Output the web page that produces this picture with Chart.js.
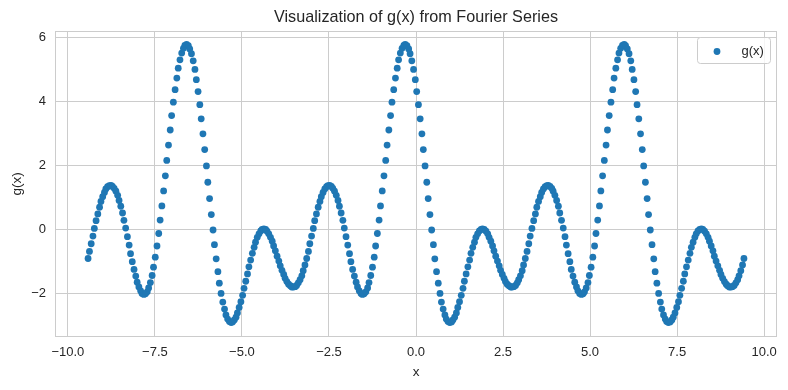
<!DOCTYPE html>
<html>
<head>
    <title>Visualization of g(x) from Fourier Series</title>
    <script src="https://cdn.jsdelivr.net/npm/chart.js@4"></script>
    <style>
      body { margin: 0; background: #ffffff; }
      canvas { display: block; }
    </style>
</head>
<body>
  <canvas id="myChart" width="788" height="390"></canvas>

  <script type="text/javascript">
    // sample points on the x axis (-3pi .. 3pi)
    const xValues = [
      -9.42,-9.38,-9.33,-9.28,-9.24,-9.19,-9.14,-9.09,-9.05,-9.00,
      -8.95,-8.91,-8.86,-8.81,-8.76,-8.72,-8.67,-8.62,-8.57,-8.53,
      -8.48,-8.43,-8.39,-8.34,-8.29,-8.24,-8.20,-8.15,-8.10,-8.05,
      -8.01,-7.96,-7.91,-7.87,-7.82,-7.77,-7.72,-7.68,-7.63,-7.58,
      -7.54,-7.49,-7.44,-7.39,-7.35,-7.30,-7.25,-7.20,-7.16,-7.11,
      -7.06,-7.02,-6.97,-6.92,-6.87,-6.83,-6.78,-6.73,-6.68,-6.64,
      -6.59,-6.54,-6.50,-6.45,-6.40,-6.35,-6.31,-6.26,-6.21,-6.17,
      -6.12,-6.07,-6.02,-5.98,-5.93,-5.88,-5.83,-5.79,-5.74,-5.69,
      -5.65,-5.60,-5.55,-5.50,-5.46,-5.41,-5.36,-5.31,-5.27,-5.22,
      -5.17,-5.13,-5.08,-5.03,-4.98,-4.94,-4.89,-4.84,-4.80,-4.75,
      -4.70,-4.65,-4.61,-4.56,-4.51,-4.46,-4.42,-4.37,-4.32,-4.28,
      -4.23,-4.18,-4.13,-4.09,-4.04,-3.99,-3.94,-3.90,-3.85,-3.80,
      -3.76,-3.71,-3.66,-3.61,-3.57,-3.52,-3.47,-3.43,-3.38,-3.33,
      -3.28,-3.24,-3.19,-3.14,-3.09,-3.05,-3.00,-2.95,-2.91,-2.86,
      -2.81,-2.76,-2.72,-2.67,-2.62,-2.57,-2.53,-2.48,-2.43,-2.39,
      -2.34,-2.29,-2.24,-2.20,-2.15,-2.10,-2.06,-2.01,-1.96,-1.91,
      -1.87,-1.82,-1.77,-1.72,-1.68,-1.63,-1.58,-1.54,-1.49,-1.44,
      -1.39,-1.35,-1.30,-1.25,-1.20,-1.16,-1.11,-1.06,-1.02,-0.97,
      -0.92,-0.87,-0.83,-0.78,-0.73,-0.69,-0.64,-0.59,-0.54,-0.50,
      -0.45,-0.40,-0.35,-0.31,-0.26,-0.21,-0.17,-0.12,-0.07,-0.02,
      0.02,0.07,0.12,0.17,0.21,0.26,0.31,0.35,0.40,0.45,
      0.50,0.54,0.59,0.64,0.69,0.73,0.78,0.83,0.87,0.92,
      0.97,1.02,1.06,1.11,1.16,1.20,1.25,1.30,1.35,1.39,
      1.44,1.49,1.54,1.58,1.63,1.68,1.72,1.77,1.82,1.87,
      1.91,1.96,2.01,2.06,2.10,2.15,2.20,2.24,2.29,2.34,
      2.39,2.43,2.48,2.53,2.57,2.62,2.67,2.72,2.76,2.81,
      2.86,2.91,2.95,3.00,3.05,3.09,3.14,3.19,3.24,3.28,
      3.33,3.38,3.43,3.47,3.52,3.57,3.61,3.66,3.71,3.76,
      3.80,3.85,3.90,3.94,3.99,4.04,4.09,4.13,4.18,4.23,
      4.28,4.32,4.37,4.42,4.46,4.51,4.56,4.61,4.65,4.70,
      4.75,4.80,4.84,4.89,4.94,4.98,5.03,5.08,5.13,5.17,
      5.22,5.27,5.31,5.36,5.41,5.46,5.50,5.55,5.60,5.65,
      5.69,5.74,5.79,5.83,5.88,5.93,5.98,6.02,6.07,6.12,
      6.17,6.21,6.26,6.31,6.35,6.40,6.45,6.50,6.54,6.59,
      6.64,6.68,6.73,6.78,6.83,6.87,6.92,6.97,7.02,7.06,
      7.11,7.16,7.20,7.25,7.30,7.35,7.39,7.44,7.49,7.54,
      7.58,7.63,7.68,7.72,7.77,7.82,7.87,7.91,7.96,8.01,
      8.05,8.10,8.15,8.20,8.24,8.29,8.34,8.39,8.43,8.48,
      8.53,8.57,8.62,8.67,8.72,8.76,8.81,8.86,8.91,8.95,
      9.00,9.05,9.09,9.14,9.19,9.24,9.28,9.33,9.38,9.42
    ];

    // g(x), one value per dot
    const gValues = [
      -0.90,-0.68,-0.44,-0.20,0.04,0.28,0.49,0.70,0.88,1.03,
      1.16,1.27,1.34,1.37,1.38,1.35,1.29,1.20,1.07,0.91,
      0.73,0.52,0.29,0.05,-0.22,-0.48,-0.75,-1.00,-1.24,-1.45,
      -1.64,-1.79,-1.91,-1.99,-2.02,-2.00,-1.94,-1.82,-1.65,-1.43,
      -1.17,-0.86,-0.51,-0.12,0.30,0.74,1.21,1.68,2.16,2.64,
      3.11,3.56,3.98,4.37,4.73,5.04,5.30,5.51,5.66,5.75,
      5.78,5.74,5.64,5.49,5.27,5.00,4.68,4.31,3.90,3.46,
      2.99,2.50,1.99,1.48,0.97,0.47,-0.01,-0.47,-0.91,-1.31,
      -1.67,-1.99,-2.26,-2.48,-2.66,-2.79,-2.87,-2.90,-2.88,-2.82,
      -2.73,-2.60,-2.43,-2.25,-2.05,-1.83,-1.61,-1.38,-1.16,-0.95,
      -0.74,-0.55,-0.39,-0.24,-0.13,-0.04,0.01,0.02,0.01,-0.05,
      -0.13,-0.24,-0.36,-0.51,-0.66,-0.83,-0.98,-1.13,-1.27,-1.40,
      -1.52,-1.62,-1.70,-1.75,-1.79,-1.79,-1.78,-1.74,-1.66,-1.56,
      -1.44,-1.28,-1.10,
      -0.90,-0.68,-0.44,-0.20,0.04,0.28,0.49,0.70,0.88,1.03,
      1.16,1.27,1.34,1.37,1.38,1.35,1.29,1.20,1.07,0.91,
      0.73,0.52,0.29,0.05,-0.22,-0.48,-0.75,-1.00,-1.24,-1.45,
      -1.64,-1.79,-1.91,-1.99,-2.02,-2.00,-1.94,-1.82,-1.65,-1.43,
      -1.17,-0.86,-0.51,-0.12,0.30,0.74,1.21,1.68,2.16,2.64,
      3.11,3.56,3.98,4.37,4.73,5.04,5.30,5.51,5.66,5.75,
      5.78,5.74,5.64,5.49,5.27,5.00,4.68,4.31,3.90,3.46,
      2.99,2.50,1.99,1.48,0.97,0.47,-0.01,-0.47,-0.91,-1.31,
      -1.67,-1.99,-2.26,-2.48,-2.66,-2.79,-2.87,-2.90,-2.88,-2.82,
      -2.73,-2.60,-2.43,-2.25,-2.05,-1.83,-1.61,-1.38,-1.16,-0.95,
      -0.74,-0.55,-0.39,-0.24,-0.13,-0.04,0.01,0.02,0.01,-0.05,
      -0.13,-0.24,-0.36,-0.51,-0.66,-0.83,-0.98,-1.13,-1.27,-1.40,
      -1.52,-1.62,-1.70,-1.75,-1.79,-1.79,-1.78,-1.74,-1.66,-1.56,
      -1.44,-1.28,-1.10,
      -0.90,-0.68,-0.44,-0.20,0.04,0.28,0.49,0.70,0.88,1.03,
      1.16,1.27,1.34,1.37,1.38,1.35,1.29,1.20,1.07,0.91,
      0.73,0.52,0.29,0.05,-0.22,-0.48,-0.75,-1.00,-1.24,-1.45,
      -1.64,-1.79,-1.91,-1.99,-2.02,-2.00,-1.94,-1.82,-1.65,-1.43,
      -1.17,-0.86,-0.51,-0.12,0.30,0.74,1.21,1.68,2.16,2.64,
      3.11,3.56,3.98,4.37,4.73,5.04,5.30,5.51,5.66,5.75,
      5.78,5.74,5.64,5.49,5.27,5.00,4.68,4.31,3.90,3.46,
      2.99,2.50,1.99,1.48,0.97,0.47,-0.01,-0.47,-0.91,-1.31,
      -1.67,-1.99,-2.26,-2.48,-2.66,-2.79,-2.87,-2.90,-2.88,-2.82,
      -2.73,-2.60,-2.43,-2.25,-2.05,-1.83,-1.61,-1.38,-1.16,-0.95,
      -0.74,-0.55,-0.39,-0.24,-0.13,-0.04,0.01,0.02,0.01,-0.05,
      -0.13,-0.24,-0.36,-0.51,-0.66,-0.83,-0.98,-1.13,-1.27,-1.40,
      -1.52,-1.62,-1.70,-1.75,-1.79,-1.79,-1.78,-1.74,-1.66,-1.56,
      -1.44,-1.28,-1.10,
      -0.90
    ];

    const seriesLabel = 'g(x)';
    const chartTitle = 'Visualization of g(x) from Fourier Series';
    const xTickStep = 2.5;
    const yTickStep = 2;

    const FONT = 'Arial, "Liberation Sans", sans-serif';
    const TEXT = '#262626';
    const GRID = '#cccccc';
    const BLUE = '#1f77b4';

    const points = xValues.map(function (x, i) {
      return { x: x, y: gValues[i] };
    });

    // matplotlib style minus sign
    function tickText(v, digits) {
      const s = Math.abs(v).toFixed(digits);
      return v < 0 ? '\u2212' + s : s;
    }

    // light grey box round the plot area
    const framePlugin = {
      id: 'frame',
      beforeDatasetsDraw(chart) {
        const a = chart.chartArea;
        const ctx = chart.ctx;
        ctx.save();
        ctx.strokeStyle = GRID;
        ctx.lineWidth = 1;
        ctx.strokeRect(a.left + 0.5, a.top + 0.5, a.right - a.left - 1, a.bottom - a.top - 1);
        ctx.restore();
      }
    };

    // legend box inside the plot, upper right
    const legendBox = {
      id: 'legendBox',
      afterDatasetsDraw(chart) {
        const a = chart.chartArea;
        const ctx = chart.ctx;
        const ds = chart.data.datasets[0];
        const w = 73, h = 26, r = 3;
        const x0 = Math.round(a.right - 7 - w) + 0.5;
        const y0 = Math.round(a.top + 6) + 0.5;
        ctx.save();
        ctx.beginPath();
        ctx.moveTo(x0 + r, y0);
        ctx.arcTo(x0 + w, y0, x0 + w, y0 + h, r);
        ctx.arcTo(x0 + w, y0 + h, x0, y0 + h, r);
        ctx.arcTo(x0, y0 + h, x0, y0, r);
        ctx.arcTo(x0, y0, x0 + w, y0, r);
        ctx.closePath();
        ctx.fillStyle = 'rgba(255,255,255,0.8)';
        ctx.fill();
        ctx.strokeStyle = GRID;
        ctx.lineWidth = 1;
        ctx.stroke();

        ctx.beginPath();
        ctx.arc(x0 + 19.5, y0 + 14, ds.pointRadius, 0, Math.PI * 2);
        ctx.fillStyle = ds.backgroundColor;
        ctx.fill();

        ctx.font = '13px ' + FONT;
        ctx.fillStyle = TEXT;
        ctx.textBaseline = 'middle';
        ctx.textAlign = 'left';
        ctx.fillText(ds.label, x0 + 44, y0 + 14);
        ctx.restore();
      }
    };

    const ctx = document.getElementById('myChart').getContext('2d');

    new Chart(ctx, {
      type: 'scatter',
      data: {
        datasets: [{
          label: seriesLabel,
          data: points,
          backgroundColor: BLUE,
          borderColor: BLUE,
          borderWidth: 0,
          pointRadius: 3.4,
          pointHoverRadius: 3.4
        }]
      },
      options: {
        responsive: false,
        animation: false,
        devicePixelRatio: 1,
        events: [],
        layout: {
          autoPadding: false,
          padding: { left: 0, right: 11, top: 0, bottom: 0 }
        },
        plugins: {
          legend: { display: false },
          tooltip: { enabled: false },
          title: { display: false }
        },
        scales: {
          x: {
            type: 'linear',
            position: 'bottom',
            min: -10.37,
            max: 10.37,
            grid: { color: GRID, lineWidth: 1, drawTicks: false },
            border: { display: false },
            ticks: {
              stepSize: xTickStep,
              includeBounds: false,
              padding: 7.5,
              color: TEXT,
              maxRotation: 0,
              font: { family: FONT, size: 13 },
              callback: function (v) { return tickText(v, 1); }
            },
            title: {
              display: true,
              text: 'x',
              color: TEXT,
              font: { family: FONT, size: 13.5 },
              padding: { top: 0, bottom: 10 }
            },
            afterFit: function (scale) { scale.height = 53; }
          },
          // empty top axis, only used so the title sits centred over the plot
          top: {
            type: 'linear',
            axis: 'x',
            position: 'top',
            min: -10.37,
            max: 10.37,
            grid: { display: false },
            border: { display: false },
            ticks: { display: false },
            title: {
              display: true,
              text: chartTitle,
              color: TEXT,
              font: { family: FONT, size: 16.2 },
              padding: { top: 7.4, bottom: 0 }
            },
            afterFit: function (scale) { scale.height = 31; }
          },
          y: {
            type: 'linear',
            min: -3.35,
            max: 6.2,
            grid: { color: GRID, lineWidth: 1, drawTicks: false },
            border: { display: false },
            ticks: {
              stepSize: yTickStep,
              includeBounds: false,
              padding: 9,
              color: TEXT,
              font: { family: FONT, size: 13 },
              callback: function (v) { return tickText(v, 0); }
            },
            title: {
              display: true,
              text: 'g(x)',
              color: TEXT,
              font: { family: FONT, size: 13.5 },
              padding: { top: 9, bottom: 0 }
            },
            afterFit: function (scale) { scale.width = 55; }
          }
        }
      },
      plugins: [framePlugin, legendBox]
    });
  </script>
</body>
</html>
